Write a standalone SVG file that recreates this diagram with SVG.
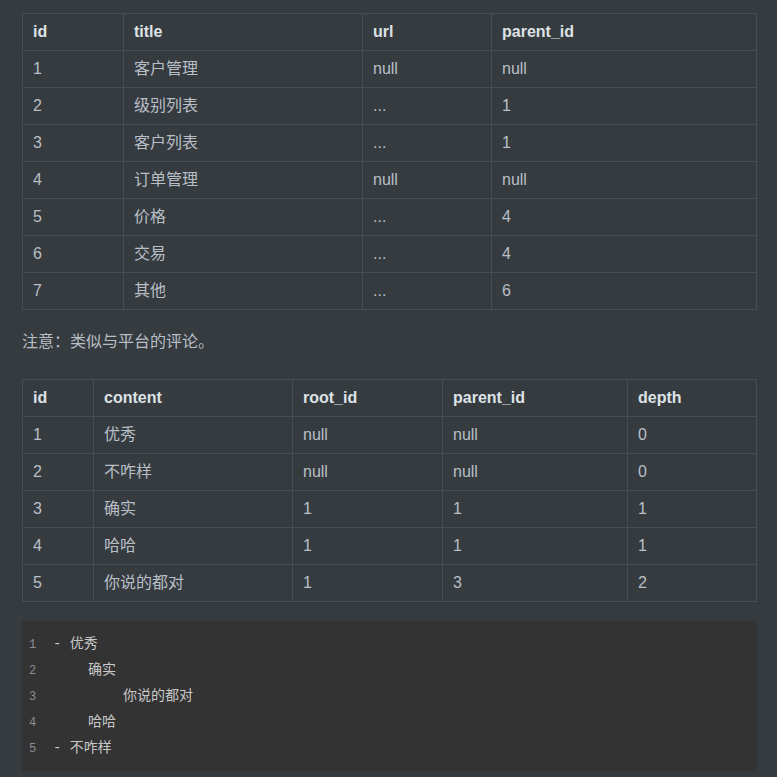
<svg xmlns="http://www.w3.org/2000/svg" width="777" height="777" viewBox="0 0 777 777">
<style>
.t{font-family:"Liberation Sans","Noto Sans CJK SC",sans-serif;font-size:16px;fill:#b8bfc6}
.h{font-family:"Liberation Sans","Noto Sans CJK SC",sans-serif;font-size:16px;font-weight:bold;fill:#dde2e6}
.g{stroke:#474d54;stroke-width:1;fill:none}
.c{font-family:"Liberation Mono","Noto Sans CJK SC",monospace;font-size:14px;fill:#c8c8c8}
.n{font-family:"Liberation Mono",monospace;font-size:12px;fill:#8a8f94}
</style>
<rect width="777" height="777" fill="#363b40"/>
<g id="table1">
<rect class="g" x="22.5" y="13.5" width="734" height="296"/>
<path class="g" d="M22 50.5H757M22 87.5H757M22 124.5H757M22 161.5H757M22 198.5H757M22 235.5H757M22 272.5H757M123.5 13V310M362.5 13V310M491.5 13V310"/>
<text class="h" x="33" y="37">id</text><text class="h" x="134" y="37">title</text><text class="h" x="373" y="37">url</text><text class="h" x="502" y="37">parent_id</text>
<text class="t" x="33" y="74">1</text><text class="t" x="134" y="74">客户管理</text><text class="t" x="373" y="74">null</text><text class="t" x="502" y="74">null</text>
<text class="t" x="33" y="111">2</text><text class="t" x="134" y="111">级别列表</text><text class="t" x="373" y="111">...</text><text class="t" x="502" y="111">1</text>
<text class="t" x="33" y="148">3</text><text class="t" x="134" y="148">客户列表</text><text class="t" x="373" y="148">...</text><text class="t" x="502" y="148">1</text>
<text class="t" x="33" y="185">4</text><text class="t" x="134" y="185">订单管理</text><text class="t" x="373" y="185">null</text><text class="t" x="502" y="185">null</text>
<text class="t" x="33" y="222">5</text><text class="t" x="134" y="222">价格</text><text class="t" x="373" y="222">...</text><text class="t" x="502" y="222">4</text>
<text class="t" x="33" y="259">6</text><text class="t" x="134" y="259">交易</text><text class="t" x="373" y="259">...</text><text class="t" x="502" y="259">4</text>
<text class="t" x="33" y="296">7</text><text class="t" x="134" y="296">其他</text><text class="t" x="373" y="296">...</text><text class="t" x="502" y="296">6</text>
</g>
<text class="t" x="22" y="347">注意：类似与平台的评论。</text>
<g id="table2">
<rect class="g" x="22.5" y="379.5" width="734" height="222"/>
<path class="g" d="M22 416.5H757M22 453.5H757M22 490.5H757M22 527.5H757M22 564.5H757M93.5 379V602M292.5 379V602M442.5 379V602M627.5 379V602"/>
<text class="h" x="33" y="403">id</text><text class="h" x="104" y="403">content</text><text class="h" x="303" y="403">root_id</text><text class="h" x="453" y="403">parent_id</text><text class="h" x="638" y="403">depth</text>
<text class="t" x="33" y="440">1</text><text class="t" x="104" y="440">优秀</text><text class="t" x="303" y="440">null</text><text class="t" x="453" y="440">null</text><text class="t" x="638" y="440">0</text>
<text class="t" x="33" y="477">2</text><text class="t" x="104" y="477">不咋样</text><text class="t" x="303" y="477">null</text><text class="t" x="453" y="477">null</text><text class="t" x="638" y="477">0</text>
<text class="t" x="33" y="514">3</text><text class="t" x="104" y="514">确实</text><text class="t" x="303" y="514">1</text><text class="t" x="453" y="514">1</text><text class="t" x="638" y="514">1</text>
<text class="t" x="33" y="551">4</text><text class="t" x="104" y="551">哈哈</text><text class="t" x="303" y="551">1</text><text class="t" x="453" y="551">1</text><text class="t" x="638" y="551">1</text>
<text class="t" x="33" y="588">5</text><text class="t" x="104" y="588">你说的都对</text><text class="t" x="303" y="588">1</text><text class="t" x="453" y="588">3</text><text class="t" x="638" y="588">2</text>
</g>
<g id="code">
<rect x="22" y="621" width="735" height="150" fill="#333333"/>
<text class="n" x="29" y="648">1</text><text class="n" x="29" y="674">2</text><text class="n" x="29" y="700">3</text><text class="n" x="29" y="726">4</text><text class="n" x="29" y="752">5</text>
<text class="c" x="53" y="648">- 优秀</text>
<text class="c" x="88" y="674">确实</text>
<text class="c" x="123" y="700">你说的都对</text>
<text class="c" x="88" y="726">哈哈</text>
<text class="c" x="53" y="752">- 不咋样</text>
</g>
</svg>
